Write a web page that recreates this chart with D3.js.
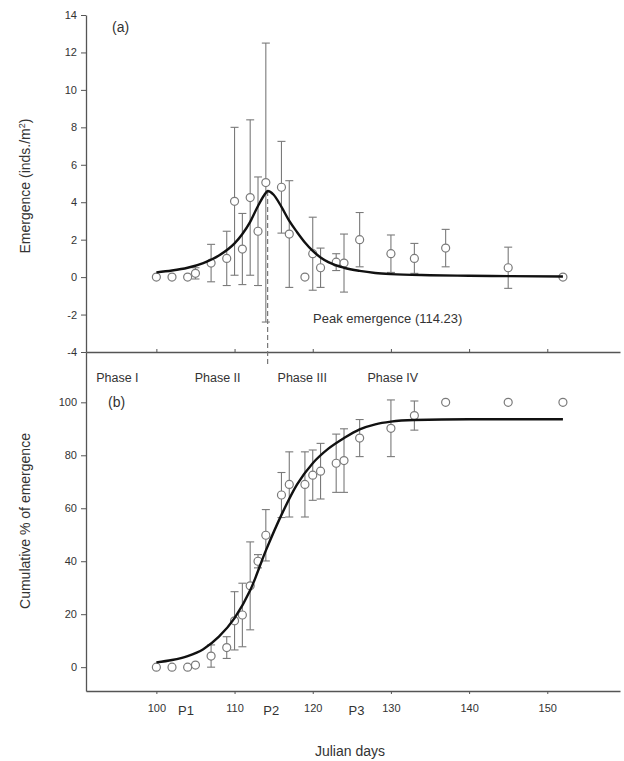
<!DOCTYPE html>
<html><head><meta charset="utf-8">
<script src="https://cdn.jsdelivr.net/npm/d3@7"></script>
<style>
body{margin:0;background:#fff;}
text{font-family:"Liberation Sans",Arial,sans-serif;}
</style></head>
<body>
<svg id="c" width="624" height="761"></svg>
<script>
// ---- data ----
const daysA   = [100,102,104,105,107,109,110,111,112,113,114,116,117,119,120,121,123,124,126,130,133,137,145,152];
const emergA  = [0,0,0,0.2,0.75,1.0,4.05,1.5,4.25,2.45,5.05,4.8,2.3,0,1.25,0.5,0.8,0.75,2.0,1.25,1.0,1.55,0.5,0];
const errA    = [0,0,0,0.3,1.0,1.45,3.95,1.9,4.15,2.9,7.45,2.45,2.85,0,1.95,1.05,0.45,1.55,1.45,1.0,0.8,1.0,1.1,0];
const fitDaysA = [100,102,104,106,108,110,111,112,113,114,114.23,115,116,117,118,119,120,121,122,124,126,128,130,135,140,145,152];
const fitA     = [0.25,0.35,0.5,0.75,1.15,1.8,2.3,2.95,3.8,4.5,4.6,4.4,3.75,3.0,2.4,1.85,1.4,1.05,0.8,0.5,0.33,0.22,0.16,0.1,0.07,0.05,0.03];
const peakDay = 114.23;

const daysB  = [100,102,104,105,107,109,110,111,112,113,114,116,117,119,120,121,123,124,126,130,133,137,145,152];
const cumB   = [0,0,0,0.8,4.2,7.4,17.5,19.7,30.7,40,49.8,65,69,69,72.5,74,77,78,86.5,90.2,95,100,100,100];
const errB   = [0,0,0,0,4.2,4.1,11,12,16.6,2.5,9.7,8.5,12.3,12.3,9.5,10.5,11,12,7,10.7,5.5,0,0,0];
const fitDaysB = [100,102,104,106,108,110,112,114,116,118,120,122,124,126,128,130,133,140,152];
const fitB     = [1.8,2.7,4.2,6.8,11.5,18.5,29,44,57.5,69,77,82.5,86.5,89.8,91.7,92.7,93.3,93.6,93.6];

const xTicks = [100,110,120,130,140,150];
const yTicksA = [14,12,10,8,6,4,2,0,-2,-4];
const yTicksB = [100,80,60,40,20,0];
const pLabels = ["P1","P2","P3"];
const pDays = [103.8,114.7,125.6];
const phaseLabels = ["Phase I","Phase II","Phase III","Phase IV"];
const phaseDays = [92.3,104.9,115.5,127];

// ---- drawing ----
const svg = d3.select("#c");
const axisCol = "#555", txtCol = "#333", ptCol = "#7a7a7a";

const x = d3.scaleLinear().domain([91,159.3]).range([86,620]);
const yA = d3.scaleLinear().domain([-4,14]).range([352,15]);
const yB = d3.scaleLinear().domain([-9,119]).range([691,352]);

function styleAxis(g){
  g.selectAll("path.domain").attr("stroke",axisCol).attr("stroke-width",1.3);
  g.selectAll(".tick line").attr("stroke",axisCol);
  g.selectAll(".tick text").attr("fill",txtCol).style("font-size","11px");
}
const plain = d => String(d);

// left axes
svg.append("g").attr("transform","translate(86,0)")
  .call(d3.axisLeft(yA).tickValues(yTicksA).tickFormat(plain).tickSize(5).tickPadding(4).tickSizeOuter(0))
  .call(styleAxis);
svg.append("g").attr("transform","translate(86,0)")
  .call(d3.axisLeft(yB).tickValues(yTicksB).tickFormat(plain).tickSize(5).tickPadding(4).tickSizeOuter(0))
  .call(styleAxis);

// top panel x axis (ticks inward, no labels)
svg.append("g").attr("transform","translate(0,"+yA(-4)+")")
  .call(d3.axisTop(x).tickValues(xTicks).tickSize(3).tickFormat("").tickSizeOuter(0))
  .call(styleAxis);
// bottom panel x axis
svg.append("g").attr("transform","translate(0,"+yB(-9)+")")
  .call(d3.axisBottom(x).tickValues(xTicks).tickFormat(plain).tickSize(3).tickPadding(10).tickSizeOuter(0))
  .call(styleAxis);

// P labels
svg.selectAll("text.p").data(pLabels).enter().append("text")
  .attr("x",(d,i)=>x(pDays[i])).attr("y",yB(-9)+24)
  .attr("text-anchor","middle").attr("fill",txtCol).style("font-size","13px").text(d=>d);

// phase labels
svg.selectAll("text.ph").data(phaseLabels).enter().append("text")
  .attr("x",(d,i)=>x(phaseDays[i])).attr("y",382)
  .attr("fill",txtCol).style("font-size","12.5px").text(d=>d);

// panel letters
svg.append("text").attr("x",112).attr("y",32).attr("fill",txtCol).style("font-size","14px").text("(a)");
svg.append("text").attr("x",108).attr("y",407).attr("fill",txtCol).style("font-size","14px").text("(b)");

// axis titles
const t1 = svg.append("text").attr("transform","translate(30,186) rotate(-90)")
  .attr("text-anchor","middle").attr("fill",txtCol).style("font-size","14px");
t1.append("tspan").text("Emergence (inds./m");
t1.append("tspan").attr("dy",-5).style("font-size","9px").text("2");
t1.append("tspan").attr("dy",5).text(")");
svg.append("text").attr("transform","translate(30,521) rotate(-90)")
  .attr("text-anchor","middle").attr("fill",txtCol).style("font-size","14px").text("Cumulative % of emergence");
svg.append("text").attr("x",350).attr("y",756).attr("text-anchor","middle")
  .attr("fill",txtCol).style("font-size","14px").text("Julian days");

// peak line + label
svg.append("line").attr("x1",x(peakDay)).attr("x2",x(peakDay))
  .attr("y1",yA(4.6)).attr("y2",yA(-4.8))
  .attr("stroke","#777").attr("stroke-width",1.2).attr("stroke-dasharray","5,3");
svg.append("text").attr("x",313).attr("y",323).attr("fill",txtCol).style("font-size","13px")
  .text("Peak emergence (114.23)");

function drawPanel(days, vals, errs, y){
  const g = svg.append("g");
  const capW = 4;
  days.forEach((d,i)=>{
    if(errs[i]>0){
      const cx = x(d), y1 = y(vals[i]+errs[i]), y2 = y(vals[i]-errs[i]);
      g.append("line").attr("x1",cx).attr("x2",cx).attr("y1",y1).attr("y2",y2).attr("stroke",ptCol).attr("stroke-width",1.1);
      g.append("line").attr("x1",cx-capW).attr("x2",cx+capW).attr("y1",y1).attr("y2",y1).attr("stroke",ptCol).attr("stroke-width",1.1);
      g.append("line").attr("x1",cx-capW).attr("x2",cx+capW).attr("y1",y2).attr("y2",y2).attr("stroke",ptCol).attr("stroke-width",1.1);
    }
  });
  return g;
}
function drawPoints(g, days, vals, y){
  g.selectAll("circle").data(days).enter().append("circle")
    .attr("cx",d=>x(d)).attr("cy",(d,i)=>y(vals[i])).attr("r",4)
    .attr("fill","#fff").attr("stroke",ptCol).attr("stroke-width",1.2);
}
const line = (y)=>d3.line().x(d=>x(d[0])).y(d=>y(d[1])).curve(d3.curveMonotoneX);

const gA = drawPanel(daysA, emergA, errA, yA);
drawPoints(gA, daysA, emergA, yA);
svg.append("path").datum(fitDaysA.map((d,i)=>[d,fitA[i]]))
  .attr("d",line(yA)).attr("fill","none").attr("stroke","#111").attr("stroke-width",2.4);

const gB = drawPanel(daysB, cumB, errB, yB);
drawPoints(gB, daysB, cumB, yB);
svg.append("path").datum(fitDaysB.map((d,i)=>[d,fitB[i]]))
  .attr("d",line(yB)).attr("fill","none").attr("stroke","#111").attr("stroke-width",2.4);
</script>
</body></html>
